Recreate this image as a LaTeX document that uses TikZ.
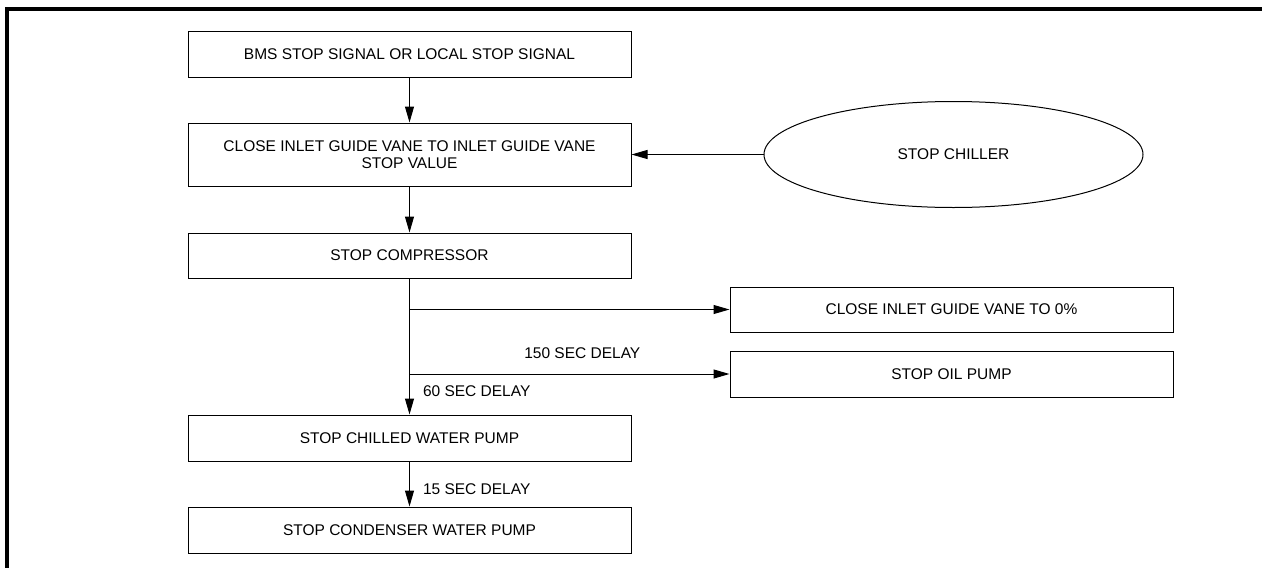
\documentclass[tikz,border=0pt]{standalone}
\usepackage{fontspec}
\setmainfont{Liberation Sans}
\usepackage{tikz}
\usetikzlibrary{arrows.meta,positioning,shapes.geometric}

\tikzset{
  stepbox/.style={draw,rectangle,line width=1pt,minimum width=443pt,minimum height=46pt,
    inner sep=0pt,align=center},
  startoval/.style={draw,ellipse,line width=1pt,minimum width=379pt,minimum height=106pt,inner sep=0pt},
  delay/.style={inner sep=0pt}
}

\begin{document}
\begin{tikzpicture}[x=1pt,y=-1pt,on grid,line width=1pt,
    >={Triangle[length=16pt,width=9pt]},
    font=\fontsize{15.5}{17.5}\selectfont]
  \useasboundingbox (0,0) rectangle (1262,568);
  % frame
  \draw[line width=4pt] (7,568) -- (7,8.7) -- (1262,8.7);

  \node[stepbox] (bms) at (409.5,54) {BMS STOP SIGNAL OR LOCAL STOP SIGNAL};
  \node[stepbox,minimum height=63pt] (igv) [below=100.5pt of bms]
    {CLOSE INLET GUIDE VANE TO INLET GUIDE VANE\\STOP VALUE};
  \node[stepbox,minimum height=45pt] (comp) [below=101pt of igv] {STOP COMPRESSOR};
  \node[stepbox] (chw) [below=182.5pt of comp] {STOP CHILLED WATER PUMP};
  \node[stepbox] (cdw) [below=92pt of chw] {STOP CONDENSER WATER PUMP};
  \node[startoval] (chiller) [right=544pt of igv] {STOP CHILLER};
  \node[stepbox,minimum height=45pt] (igvzero) [below right=54pt and 542pt of comp]
    {CLOSE INLET GUIDE VANE TO 0\%};
  \node[stepbox] (oilpump) [below=64.5pt of igvzero] {STOP OIL PUMP};

  \path[->]
  (bms) edge (igv)
  (chiller) edge (igv)
  (igv) edge (comp)
  (comp) edge node [delay,pos=0.83,anchor=west,xshift=13pt] {60 SEC DELAY} (chw)
  (comp.south |- igvzero.west) edge (igvzero)
  (comp.south |- oilpump.west) edge node [delay,pos=0.54,above=15pt] {150 SEC DELAY} (oilpump)
  (chw) edge node [delay,pos=0.61,anchor=west,xshift=13pt] {15 SEC DELAY} (cdw)
  ;
\end{tikzpicture}
\end{document}
